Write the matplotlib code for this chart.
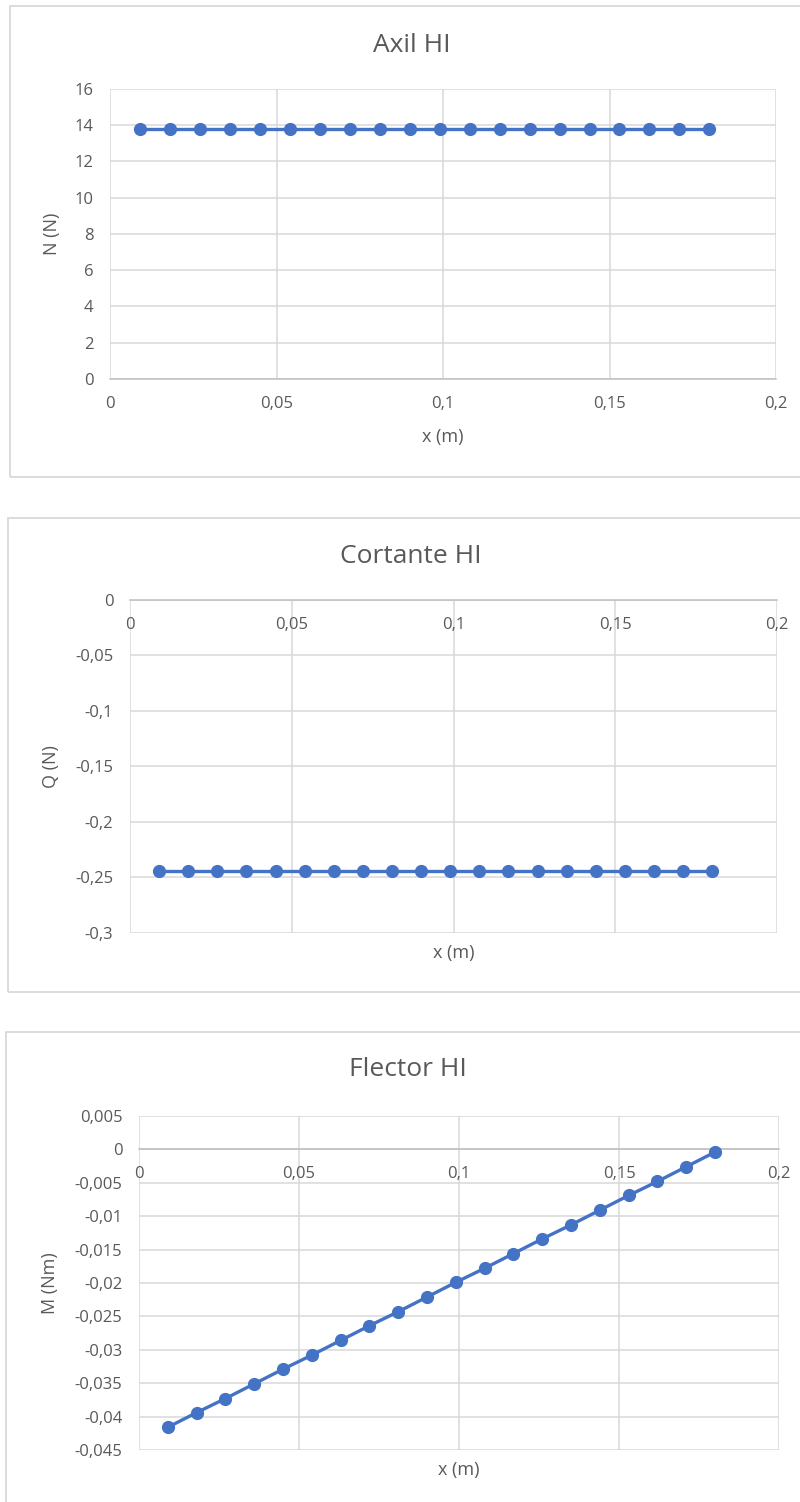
import numpy as np
import matplotlib
matplotlib.use("Agg")
import matplotlib.pyplot as plt
from matplotlib.patches import Rectangle
from matplotlib.ticker import FuncFormatter, MultipleLocator

plt.rcParams['font.family'] = ['Open Sans', 'DejaVu Sans']

# Section positions along the beam (m)
x_m = [0.009, 0.018, 0.027, 0.036, 0.045, 0.054, 0.063, 0.072, 0.081, 0.090,
       0.099, 0.108, 0.117, 0.126, 0.135, 0.144, 0.153, 0.162, 0.171, 0.180]

# Axial force N (N)
axil_N = [13.8] * 20

# Shear force Q (N)
cortante_Q = [-0.244] * 20

# Bending moment M (Nm)
flector_M = [-0.0416, -0.0394, -0.0373, -0.0351, -0.0329, -0.0308, -0.0286,
             -0.0264, -0.0243, -0.0221, -0.0199, -0.0178, -0.0156, -0.0134,
             -0.0113, -0.0091, -0.0069, -0.0048, -0.0026, -0.0004]

titles = ["Axil HI", "Cortante HI", "Flector HI"]
ylabels = ["N (N)", "Q (N)", "M (Nm)"]
xlabel = "x (m)"

BLUE = "#4472C4"
GRID = "#D9D9D9"
TEXT = "#595959"
AXLINE = "#BFBFBF"

W, H = 800, 1502
fig = plt.figure(figsize=(W / 100, H / 100), dpi=100)


def px_axes(left, right, top, bottom):
    return fig.add_axes([left / W, 1 - bottom / H, (right - left) / W, (bottom - top) / H])


def comma_fmt(v, pos):
    v = round(v, 6) + 0.0
    return f"{v:g}".replace(".", ",")


def chart_frame(left, top, bottom):
    fig.patches.append(Rectangle((left / W, 1 - bottom / H), (W + 20 - left) / W,
                                 (bottom - top) / H, transform=fig.transFigure,
                                 fill=False, edgecolor=GRID, linewidth=1.3))


def style(ax, ylim, ystep, ylab, xlab_y, ylab_x):
    ax.set_xlim(0, 0.2)
    ax.set_ylim(*ylim)
    ax.xaxis.set_major_locator(MultipleLocator(0.05))
    ax.yaxis.set_major_locator(MultipleLocator(ystep))
    ax.xaxis.set_major_formatter(FuncFormatter(comma_fmt))
    ax.yaxis.set_major_formatter(FuncFormatter(comma_fmt))
    ax.grid(True, color=GRID, linewidth=1.1)
    ax.set_axisbelow(True)
    for s in ("top", "right", "left"):
        ax.spines[s].set_visible(False)
    ax.spines["bottom"].set_position(("data", 0))
    ax.spines["bottom"].set_color(AXLINE)
    ax.spines["bottom"].set_linewidth(1.1)
    ax.spines["bottom"].set_zorder(1.5)
    ax.tick_params(axis="both", length=0, labelsize=12, labelcolor=TEXT)
    ax.tick_params(axis="x", pad=12)
    ax.tick_params(axis="y", pad=12)
    ax.set_xlabel(xlabel, fontsize=13, color=TEXT)
    ax.xaxis.set_label_coords(0.5, xlab_y)
    ax.xaxis.label.set_va("center")
    ax.set_ylabel(ylab, fontsize=13, color=TEXT)
    ax.yaxis.set_label_coords(ylab_x, 0.5)
    ax.yaxis.label.set_va("center")


def series(ax, y):
    ax.plot(x_m, y, color=BLUE, linewidth=2.4, marker="o", markersize=8.5,
            markerfacecolor=BLUE, markeredgecolor=BLUE, zorder=3, clip_on=False)


# Outer frames of the three charts
chart_frame(10, 6, 477)
chart_frame(8, 518, 992)
chart_frame(6, 1032, H + 20)

# Axial force
ax1 = px_axes(110, 776, 89, 379)
series(ax1, axil_N)
style(ax1, (0, 16), 2, ylabels[0], -0.2, -0.087)
fig.text(412 / W, 1 - 45 / H, titles[0], ha="center", va="center", fontsize=19, color=TEXT)

# Shear force
ax2 = px_axes(130, 777, 600, 933)
series(ax2, cortante_Q)
style(ax2, (-0.3, 0), 0.05, ylabels[1], -0.06, -0.122)
fig.text(411 / W, 1 - 557 / H, titles[1], ha="center", va="center", fontsize=19, color=TEXT)

# Bending moment
ax3 = px_axes(139, 779, 1116, 1450)
series(ax3, flector_M)
style(ax3, (-0.045, 0.005), 0.005, ylabels[2], -0.06, -0.139)
fig.text(408 / W, 1 - 1070 / H, titles[2], ha="center", va="center", fontsize=19, color=TEXT)

fig.savefig("out.png", dpi=100, facecolor="white")
